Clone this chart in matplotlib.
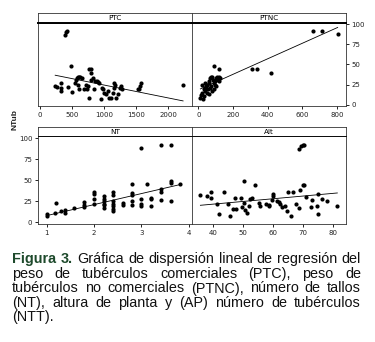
import numpy as np
import matplotlib
matplotlib.use("Agg")
from matplotlib import pyplot as plt

# PTC panel (peso de tuberculos comerciales)
ptc_x = [420, 405, 385, 491, 772, 797, 790, 238, 269, 321, 331, 321, 445, 497, 549, 564, 580,
         600, 616, 632, 652, 590, 616, 694, 720, 735, 745, 771, 797, 823, 839, 859, 890, 901,
         927, 953, 963, 978, 1004, 1030, 1056, 1082, 1108, 1134, 1149, 1160, 1170, 1186, 1211,
         1253, 1263, 1273, 1522, 1548, 1574, 1563, 2231]
ptc_y = [92, 90, 87, 48, 44, 44, 40, 23, 22, 27, 21, 17, 22, 16, 27, 31, 33,
         34, 34, 34, 33, 25, 20, 20, 25, 19, 23, 9, 31, 33, 19, 29, 30, 28,
         27, 7, 21, 19, 15, 13, 17, 9, 9, 15, 21, 27, 25, 9, 13,
         21, 23, 19, 19, 20, 27, 23, 24]

# PTNC panel
ptnc_x = [661, 713, 803, 310, 338, 421, 89, 117, 12, 17, 21, 25, 31, 37, 40, 44, 50, 56,
          60, 64, 69, 75, 79, 83, 89, 94, 98, 102, 108, 114, 117, 121, 125,
          50, 69, 79, 31, 60, 89, 102, 40, 21, 75]
ptnc_y = [92, 92, 88, 45, 44, 40, 48, 44, 9, 12, 15, 7, 19, 17, 21, 23, 25, 19,
          27, 29, 33, 35, 34, 31, 27, 25, 29, 33, 34, 31, 29, 35, 33,
          15, 21, 17, 11, 14, 20, 23, 27, 25, 23]

# NT panel (numero de tallos)
nt_x = [1.01, 1.01, 1.18, 1.20, 1.30, 1.39, 1.39, 1.59, 1.79, 1.79, 1.79, 2.0, 2.0, 2.0, 2.0,
        2.21, 2.21, 2.21, 2.21, 2.21, 2.21, 2.40, 2.40, 2.40, 2.40, 2.40, 2.40, 2.40, 2.61, 2.61,
        2.81, 2.81, 2.81, 2.81, 2.81, 3.0, 3.0, 3.0, 3.0, 3.11, 3.21, 3.21, 3.21,
        3.41, 3.41, 3.41, 3.41, 3.62, 3.62, 3.62, 3.62, 3.82]
nt_y = [8, 9.5, 11, 23, 13, 15, 11, 17, 24, 21, 18, 36, 34, 28, 22,
        31, 28, 25, 22, 20, 17, 36, 33, 25, 22, 19, 16, 13, 23, 20,
        45, 35, 32, 25, 20, 88, 28, 22, 19, 45, 29, 28, 19,
        92, 39, 36, 27, 92, 49, 47, 25, 45]

# Alt panel (altura de planta)
alt_x = [35.7, 37.9, 39.3, 39.3, 41.2, 41.8, 43.5, 44.9, 45.7, 46.5,
         47.4, 47.6, 49.3, 49.6, 50.1, 50.3, 50.7, 51.2, 51.8, 52.3,
         52.9, 53.8, 55.1, 55.7, 57.6, 58.5, 58.7, 59.8, 59.8, 59.6,
         61.3, 62.0, 62.4, 62.9, 64.0, 64.6, 65.1, 65.9, 66.5, 67.6,
         68.7, 69.3, 70.1, 70.4, 69.0, 69.9, 70.4, 68.7, 71.0, 72.7,
         73.1, 74.6, 74.9, 75.1, 76.2, 77.9, 81.4]
alt_y = [32.9, 30.9, 35.7, 28.4, 21.3, 10.3, 36.0, 21.3, 7.1, 15.8,
         29.0, 15.8, 29.0, 18.0, 48.8, 23.2, 15.0, 11.1, 19.6, 27.8,
         28.4, 44.8, 22.5, 19.6, 21.3, 19.0, 20.0, 34.1, 31.5, 26.1,
         25.4, 24.2, 21.3, 18.6, 19.6, 12.9, 35.7, 7.7, 35.7, 21.3,
         87.2, 90.4, 91.6, 91.6, 38.8, 44.8, 44.8, 17.0, 30.0, 18.0,
         26.9, 19.6, 33.3, 10.3, 27.5, 25.0, 19.6]

# regression lines: (intercept, slope)
fit_ptc = (40.5, -0.016)
fit_ptnc = (18.5, 0.0965)
fit_nt = (-5.2, 13.1)
fit_alt = (8.8, 0.32)

ptc_ticks = [0, 500, 1000, 1500, 2000]
ptnc_ticks = [0, 200, 400, 600, 800]
nt_ticks = [1, 2, 3, 4]
alt_ticks = [40, 50, 60, 70, 80]
y_ticks = [0, 25, 50, 75, 100]

caption_lines = [
    "Gráfica de dispersión lineal de regresión del",
    "peso de tubérculos comerciales (PTC), peso de",
    "tubérculos no comerciales (PTNC), número de tallos",
    "(NT), altura de planta y (AP) número de tubérculos",
    "(NTT).",
]

W, H = 375, 342
fig = plt.figure(figsize=(3.75, 3.42), dpi=100)


def frac(x0, y0, x1, y1):
    # pixel box (top-left origin) -> figure fraction rect
    return [x0 / W, 1 - y1 / H, (x1 - x0) / W, (y1 - y0) / H]


def panel(box, strip, title, xs, ys, fit, xlim, ylim, xticks, strip_lw):
    ax = fig.add_axes(frac(*box))
    ax.scatter(xs, ys, s=9, c="black", marker="o", linewidths=0)
    xx = np.array([min(xs), max(xs)])
    ax.plot(xx, fit[0] + fit[1] * xx, color="black", lw=0.6)
    ax.set_xlim(*xlim)
    ax.set_ylim(*ylim)
    ax.set_xticks(xticks)
    ax.set_yticks(y_ticks)
    ax.tick_params(direction="out", length=2.5, width=0.6, labelsize=5, pad=1.5,
                   colors="black", labelcolor="#222222")
    ax.tick_params(axis="y", left=False, labelleft=False)
    for s in ax.spines.values():
        s.set_linewidth(0.6)
        s.set_color("#333333")
    sax = fig.add_axes(frac(*strip))
    sax.set_xticks([])
    sax.set_yticks([])
    for s in sax.spines.values():
        s.set_linewidth(0.6)
        s.set_color("#333333")
    sax.spines["bottom"].set_linewidth(strip_lw)
    sax.spines["bottom"].set_color("black")
    sax.text(0.5, 0.45, title, ha="center", va="center", fontsize=5.2,
             transform=sax.transAxes)
    return ax


ax1 = panel((38, 23, 192, 106), (38, 13, 192, 23), "PTC", ptc_x, ptc_y, fit_ptc,
            (-30, 2370), (-1.5, 101.5), ptc_ticks, 1.4)
ax2 = panel((192, 23, 346, 106), (192, 13, 346, 23), "PTNC", ptnc_x, ptnc_y, fit_ptnc,
            (-36, 851), (-1.5, 101.5), ptnc_ticks, 1.4)
ax3 = panel((38, 136, 192, 224), (38, 127, 192, 136), "NT", nt_x, nt_y, fit_nt,
            (0.82, 4.07), (-2, 102.5), nt_ticks, 0.6)
ax4 = panel((192, 136, 346, 224), (192, 127, 346, 136), "Alt", alt_x, alt_y, fit_alt,
            (32.9, 84.3), (-2, 102.5), alt_ticks, 0.6)

ax2.tick_params(axis="y", right=True, labelright=True)
ax3.tick_params(axis="y", left=True, labelleft=True)

fig.text(15 / W, 1 - 120 / H, "NTub", rotation=90, ha="center", va="center",
         fontsize=6, fontweight="bold", family="Liberation Sans", color="#222222")

# caption, justified by hand
left, right = 12, 361
baselines = [263, 278, 292.5, 307, 321.5]
fig.canvas.draw()
r = fig.canvas.get_renderer()
cap_size = 10.4
for i, line in enumerate(caption_lines):
    items = []
    if i == 0:
        items += [("Figura", "bold", "#1e4a2c"), ("3.", "bold", "#1e4a2c")]
    items += [(w, "normal", "#111111") for w in line.split()]
    texts = []
    for w, fw, col in items:
        t = fig.text(0, 1 - baselines[i] / H, w, fontsize=cap_size, fontweight=fw,
                     family="Liberation Sans", color=col, va="baseline", ha="left")
        texts.append(t)
    widths = [t.get_window_extent(r).width for t in texts]
    if i == len(caption_lines) - 1:
        gap = r.points_to_pixels(cap_size) * 0.28
    else:
        gap = (right - left - sum(widths)) / (len(texts) - 1)
    x = left
    for t, wd in zip(texts, widths):
        t.set_x(x / W)
        x += wd + gap

fig.savefig("out.png", dpi=100)
